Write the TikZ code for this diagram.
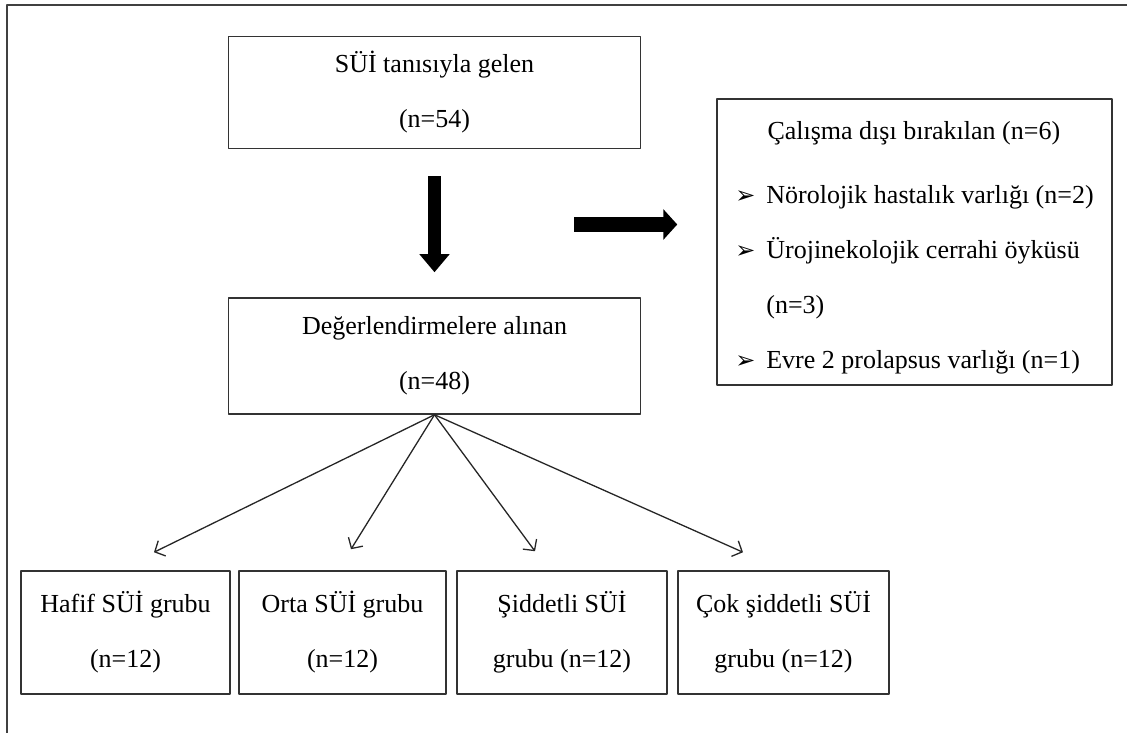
\documentclass[tikz,border=0pt]{standalone}
\usepackage{fontspec}
\setmainfont{Liberation Serif}
\newfontfamily\bulletfont{DejaVu Sans}
\usetikzlibrary{arrows.meta,calc}
\newcommand{\itm}{\makebox[31pt][l]{\bulletfont\fontsize{24}{24}\selectfont ➢}}
\begin{document}
\begin{tikzpicture}[x=1pt,y=1pt,line join=round,font=\fontsize{26}{55}\selectfont,
  box/.style={draw=black!80,line width=1.5pt,align=center,inner sep=0pt},
  fat/.style={line width=13pt,-{Triangle[width=29pt,length=18pt]}},
  split/.style={line width=1.3pt,black!85,-{Straight Barb[length=8pt,width=17pt]}}]
\def \W{1127};
\def \H{733};
\useasboundingbox (0,0) rectangle (\W,\H);
\draw[black!75,line width=2pt] (\W,728) -- (7,728) -- (7,0);
\node[box,minimum width=412,minimum height=112] (gelen) at (434.5,640.5) {SÜİ tanısıyla gelen\\(n=54)};
\node[box,minimum width=412,minimum height=116] (deger) at (434.5,377) {Değerlendirmelere alınan\\(n=48)};
\node[box,minimum width=395,minimum height=286,align=left] (disi) at (914.5,491)
  {\rule{0pt}{30pt}\makebox[357pt][c]{Çalışma dışı bırakılan (n=6)}\\[9pt]
   \itm Nörolojik hastalık varlığı (n=2)\\
   \itm Ürojinekolojik cerrahi öyküsü\\
   \hspace*{31pt}(n=3)\\
   \itm Evre 2 prolapsus varlığı (n=1)};
\foreach \n/\x/\w/\t in {hafif/125.5/209/{Hafif SÜİ grubu\\(n=12)},orta/342.5/207/{Orta SÜİ grubu\\(n=12)},
  siddetli/562/210/{Şiddetli SÜİ\\grubu (n=12)},cok/783.5/211/{Çok şiddetli SÜİ\\grubu (n=12)}}
  {\node[box,minimum width=\w,minimum height=123] (\n) at (\x,100.5) {\t};}
% thick arrows
\draw[fat] ([yshift=-27]gelen.south) -- ([yshift=25]deger.north);
\coordinate (rstart) at ($(disi.west)+(-142,17.5)$);
\coordinate (rend) at ($(disi.west)+(-39,17.5)$);
\draw[fat,line width=15pt,-{Triangle[width=30pt,length=14pt]}] (rstart) -- (rend);
% groups
\foreach \n/\dx/\dy in {hafif/28.5/18,orta/8.5/21,siddetli/-27/19,cok/-40.5/18}
  \draw[split] (deger.south) -- ($(\n.north)+(\dx,\dy)$);
\end{tikzpicture}
\end{document}
